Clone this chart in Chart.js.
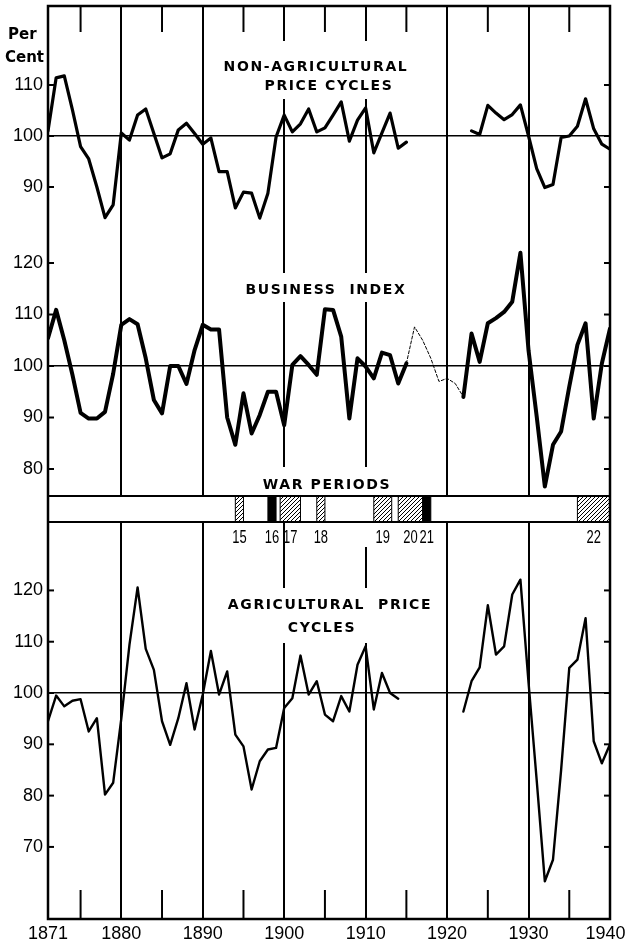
<!DOCTYPE html>
<html>
<head>
<meta charset="utf-8">
<title>Price cycles and business index</title>
<script src="https://cdn.jsdelivr.net/npm/chart.js@4.4.1/dist/chart.umd.min.js"></script>
<style>
    html, body { margin: 0; padding: 0; background: #fff; }
    canvas { display: block; }
</style>
</head>
<body>
<canvas id="cycles" width="627" height="943"></canvas>
<script>
// ---- Data ----
const years = [
    1871, 1872, 1873, 1874, 1875, 1876, 1877, 1878, 1879, 1880,
    1881, 1882, 1883, 1884, 1885, 1886, 1887, 1888, 1889, 1890,
    1891, 1892, 1893, 1894, 1895, 1896, 1897, 1898, 1899, 1900,
    1901, 1902, 1903, 1904, 1905, 1906, 1907, 1908, 1909, 1910,
    1911, 1912, 1913, 1914, 1915, 1916, 1917, 1918, 1919, 1920,
    1921, 1922, 1923, 1924, 1925, 1926, 1927, 1928, 1929, 1930,
    1931, 1932, 1933, 1934, 1935, 1936, 1937, 1938, 1939, 1940
];

const nonAgriValues = [
    101, 111.4, 111.8, 105.1, 97.9, 95.5, 90, 84, 86.5, 100.6,
    99.2, 104.1, 105.3, 100.5, 95.7, 96.5, 101.2, 102.5, 100.5, 98.4,
    99.6, 93, 93, 85.9, 89, 88.8, 83.9, 88.8, 99.8, 104.1,
    100.8, 102.4, 105.3, 100.8, 101.6, 104.1, 106.7, 99, 103.1, 105.5,
    96.7, 100.6, 104.5, 97.6, 98.8, null, null, null, null, null,
    null, null, 101, 100.3, 106, 104.5, 103.2, 104.2, 106.1, 100,
    93.6, 89.9, 90.5, 99.7, 100, 101.9, 107.3, 101.4, 98.4, 97.4
];

const businessValues = [
    105.4, 110.9, 105, 98.3, 90.9, 89.8, 89.8, 91.1, 98.5, 108,
    109.1, 108.1, 101.5, 93.4, 90.8, 100, 100, 96.5, 103.1, 108,
    107.1, 107.1, 90, 84.7, 94.7, 86.9, 90.5, 95, 95, 88.5,
    100.2, 101.9, 100.2, 98.3, 111, 110.9, 105.7, 89.8, 101.5, 99.9,
    97.6, 102.6, 102.1, 96.6, 100.5, null, null, null, null, null,
    null, 94, 106.3, 100.8, 108.3, 109.3, 110.5, 112.5, 122, 103,
    90.2, 76.6, 84.7, 87.3, 96, 104.1, 108.3, 89.8, 100.5, 107.3
];

// wartime stretch of the business index, drawn dotted
const businessWarYears = [1915, 1916, 1917, 1918, 1919, 1920, 1921, 1922];
const businessWarValues = [100.5, 107.6, 105, 101.5, 97, 97.6, 96.6, 94];

const agriValues = [
    94.5, 99.5, 97.4, 98.5, 98.8, 92.5, 95.1, 80.2, 82.5, 95,
    109.4, 120.6, 108.6, 104.5, 94.5, 89.9, 95.1, 101.9, 92.9, 99.7,
    108.2, 99.7, 104.2, 91.9, 89.6, 81.2, 86.7, 89, 89.3, 97.1,
    99, 107.3, 99.7, 102.3, 95.8, 94.5, 99.4, 96.4, 105.5, 109.1,
    96.8, 103.9, 100, 98.9, null, null, null, null, null, null,
    null, 96.4, 102.3, 105, 117.1, 107.5, 109.1, 119.2, 122.1, 102,
    83, 63.3, 67.5, 85, 104.9, 106.5, 114.6, 90.6, 86.3, 90
];

// war periods
const warStart = [1894, 1898, 1899.5, 1904, 1911, 1914, 1917, 1936];
const warEnd   = [1895, 1899, 1902, 1905, 1913.2, 1917, 1918, 1940];
const warLabel = ['15', '16', '17', '18', '19', '20', '21', '22'];
const warSolid = [false, true, false, false, false, false, true, false];

// axis ticks
const xTickYears = [1871, 1880, 1890, 1900, 1910, 1920, 1930, 1940];
const decadeLines = [1880, 1890, 1900, 1910, 1920, 1930];
const fiveYearTicks = [1875, 1885, 1895, 1905, 1915, 1925, 1935];
const topTicks = [90, 100, 110];
const businessTicks = [80, 90, 100, 110, 120];
const agriTicks = [70, 80, 90, 100, 110, 120];

// ---- Layout ----
const NUM_FONT = { family: "'Liberation Sans', Arial, sans-serif", size: 18 };
const TITLE_FONT = "bold 14px 'DejaVu Sans', sans-serif";
const BAND = { top: 496, bottom: 522, labelY: 538 };

// panel titles; the white box breaks the decade lines behind the lettering
const TITLES = [
    { box: [219, 41, 196, 58], lines: [['NON-AGRICULTURAL', 316, 67], ['PRICE CYCLES', 329, 86]] },
    { box: [246, 273, 162, 29], lines: [['BUSINESS  INDEX', 326, 290]] },
    { box: [262, 467, 130, 28], lines: [['WAR PERIODS', 327, 485]] },
    { box: [222, 588, 216, 55], lines: [['AGRICULTURAL  PRICE', 330, 605], ['CYCLES', 322, 628]] }
];
// short breaks in decade lines below the band
const GAPS = [[358, 523, 14, 24]];

function toPoints(xs, ys) {
    return xs.map((x, i) => ({ x: x, y: ys[i] }));
}

function strokeLine(ctx, x0, y0, x1, y1) {
    ctx.beginPath();
    ctx.moveTo(x0, y0);
    ctx.lineTo(x1, y1);
    ctx.stroke();
}

function makeHatch(ctx) {
    const c = document.createElement('canvas');
    c.width = 4;
    c.height = 4;
    const g = c.getContext('2d');
    g.strokeStyle = '#000';
    g.lineWidth = 1;
    g.beginPath();
    g.moveTo(0, 4); g.lineTo(4, 0);
    g.moveTo(-1, 1); g.lineTo(1, -1);
    g.moveTo(3, 5); g.lineTo(5, 3);
    g.stroke();
    return ctx.createPattern(c, 'repeat');
}

/**
 * Decoration: ticks, titles and the war-period band
 */
const cycleDecor = {
    id: 'cycleDecor',
    beforeDatasetsDraw(chart) {
        const { ctx, chartArea: area, scales } = chart;
        const x = scales.x;
        ctx.save();
        ctx.strokeStyle = '#000';

        // short five-year ticks, top and bottom
        ctx.lineWidth = 2;
        fiveYearTicks.forEach(yr => {
            const px = x.getPixelForValue(yr);
            strokeLine(ctx, px, area.top, px, area.top + 26);
            strokeLine(ctx, px, area.bottom - 29, px, area.bottom);
        });

        // inner tick marks on both borders
        ['yTop', 'yBus', 'yAgri'].forEach(id => {
            const s = scales[id];
            s.ticks.forEach(t => {
                const py = s.getPixelForValue(t.value);
                strokeLine(ctx, area.left, py, area.left + 6, py);
                strokeLine(ctx, area.right - 6, py, area.right, py);
            });
        });

        // panel titles
        ctx.fillStyle = '#fff';
        GAPS.forEach(g => ctx.fillRect(g[0], g[1], g[2], g[3]));
        ctx.font = TITLE_FONT;
        ctx.textAlign = 'center';
        ctx.textBaseline = 'middle';
        if ('letterSpacing' in ctx) ctx.letterSpacing = '1.6px';
        TITLES.forEach(t => {
            ctx.fillStyle = '#fff';
            ctx.fillRect(t.box[0], t.box[1], t.box[2], t.box[3]);
            ctx.fillStyle = '#000';
            t.lines.forEach(l => ctx.fillText(l[0], l[1], l[2]));
        });
        if ('letterSpacing' in ctx) ctx.letterSpacing = '0px';

        // war band
        ctx.fillStyle = '#fff';
        ctx.fillRect(area.left, BAND.top, area.right - area.left, BAND.bottom - BAND.top);
        const hatch = makeHatch(ctx);
        ctx.font = NUM_FONT.size + 'px ' + NUM_FONT.family;
        warStart.forEach((start, i) => {
            const x0 = x.getPixelForValue(start);
            const x1 = x.getPixelForValue(warEnd[i]);
            ctx.fillStyle = warSolid[i] ? '#000' : hatch;
            ctx.fillRect(x0, BAND.top, x1 - x0, BAND.bottom - BAND.top);
            ctx.lineWidth = 1;
            strokeLine(ctx, x0, BAND.top, x0, BAND.bottom);
            strokeLine(ctx, x1, BAND.top, x1, BAND.bottom);
            // narrow lettering for the war numbers
            ctx.save();
            ctx.translate((x0 + x1) / 2, BAND.labelY);
            ctx.scale(0.72, 1);
            ctx.fillStyle = '#000';
            ctx.fillText(warLabel[i], 0, 0);
            ctx.restore();
        });
        ctx.lineWidth = 2;
        strokeLine(ctx, area.left, BAND.top, area.right, BAND.top);
        strokeLine(ctx, area.left, BAND.bottom, area.right, BAND.bottom);

        // "Per Cent" heading
        ctx.fillStyle = '#000';
        ctx.font = "bold 15px 'DejaVu Sans', sans-serif";
        ctx.textAlign = 'left';
        ctx.fillText('Per', 8, 35);
        ctx.fillText('Cent', 5, 58);
        ctx.restore();
    },
    afterDraw(chart) {
        const { ctx, chartArea: area } = chart;
        ctx.save();
        ctx.strokeStyle = '#000';
        ctx.lineWidth = 2.5;
        ctx.strokeRect(area.left, area.top, area.right - area.left, area.bottom - area.top);
        ctx.restore();
    }
};

function yAxis(ticks, min, max, weight, stackWeight) {
    return {
        type: 'linear',
        position: 'left',
        stack: 'panels',
        stackWeight: stackWeight,
        weight: weight,
        min: min,
        max: max,
        afterBuildTicks: s => { s.ticks = ticks.map(v => ({ value: v })); },
        afterFit: s => { s.width = 48; s.paddingTop = 0; s.paddingBottom = 0; },
        border: { display: false },
        grid: {
            drawTicks: false,
            lineWidth: 1.6,
            color: c => (c.tick && c.tick.value === 100) ? '#000' : 'rgba(0,0,0,0)'
        },
        ticks: { color: '#000', font: NUM_FONT, padding: 5, callback: v => String(v) }
    };
}

const lineStyle = { borderColor: '#000', pointRadius: 0, tension: 0, spanGaps: false, borderJoinStyle: 'round', borderCapStyle: 'round' };

new Chart(document.getElementById('cycles'), {
    type: 'line',
    data: {
        datasets: [
            { ...lineStyle, label: 'Non-agricultural price cycles', data: toPoints(years, nonAgriValues), yAxisID: 'yTop', borderWidth: 3.2 },
            { ...lineStyle, label: 'Business index', data: toPoints(years, businessValues), yAxisID: 'yBus', borderWidth: 4 },
            { ...lineStyle, label: 'Business index (war years)', data: toPoints(businessWarYears, businessWarValues), yAxisID: 'yBus', borderWidth: 1, borderDash: [3, 2] },
            { ...lineStyle, label: 'Agricultural price cycles', data: toPoints(years, agriValues), yAxisID: 'yAgri', borderWidth: 2.4 }
        ]
    },
    options: {
        responsive: false,
        devicePixelRatio: 1,
        animation: false,
        layout: { autoPadding: false, padding: { top: 6, right: 17, bottom: 0, left: 0 } },
        plugins: { legend: { display: false }, tooltip: { enabled: false } },
        scales: {
            x: {
                type: 'linear',
                position: 'bottom',
                min: 1871,
                max: 1940,
                afterBuildTicks: s => { s.ticks = xTickYears.map(v => ({ value: v })); },
                afterFit: s => { s.height = 24; s.paddingLeft = 0; s.paddingRight = 0; },
                border: { display: false },
                grid: {
                    drawTicks: false,
                    lineWidth: 2,
                    color: c => (c.tick && decadeLines.includes(c.tick.value)) ? '#000' : 'rgba(0,0,0,0)'
                },
                // the last year sits at the page edge: a trailing en space pulls it inside
                ticks: {
                    color: '#000', font: NUM_FONT, padding: 4, autoSkip: false, maxRotation: 0,
                    callback: v => v === 1940 ? '1940\u2002' : String(v)
                }
            },
            // panel heights in px: 239 / 315 / 359 of the 913 px plot
            yTop: yAxis(topTicks, 78.63, 125.49, 3, 239),
            yBus: yAxis(businessTicks, 62.33, 123.5, 2, 315),
            yAgri: yAxis(agriTicks, 55.95, 125.93, 1, 359)
        }
    },
    plugins: [cycleDecor]
});
</script>
</body>
</html>
